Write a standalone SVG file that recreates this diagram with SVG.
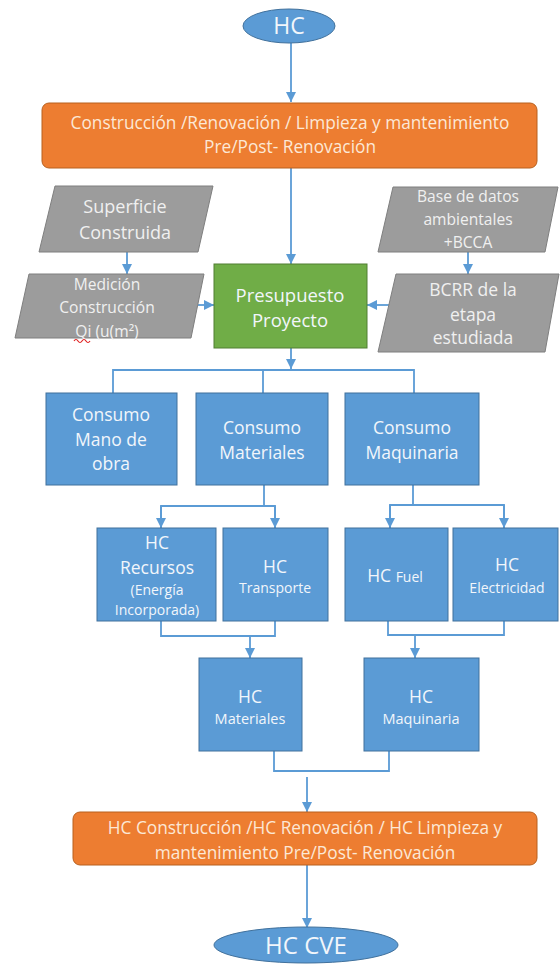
<svg xmlns="http://www.w3.org/2000/svg" width="560" height="964" viewBox="0 0 560 964">
<style>
text{font-family:"Open Sans","Liberation Sans",sans-serif;text-anchor:middle}
.blue{fill:#5B9BD5;stroke:#41719C;stroke-width:1}
.orange{fill:#ED7D31;stroke:#B8611F;stroke-width:1}
.green{fill:#70AD47;stroke:#507E32;stroke-width:1}
.gray{fill:#9C9C9C;stroke:#7F7F7F;stroke-width:1}
.tb{fill:#F2F6FB}
.to{fill:#FCE8D6}
.tg{fill:#F0F0F0}
.conn{fill:none;stroke:#5B9BD5;stroke-width:1.8}
</style>
<defs>
<marker id="arr" markerUnits="userSpaceOnUse" markerWidth="10" markerHeight="10" viewBox="0 0 10 10" refX="10" refY="5" orient="auto">
<path d="M0,0 L10,5 L0,10 Z" fill="#5B9BD5"/>
</marker>
</defs>
<rect width="560" height="964" fill="#FFFFFF"/>

<g id="connectors">
<line class="conn" x1="291" y1="43" x2="291" y2="102" marker-end="url(#arr)"/>
<line class="conn" x1="291" y1="168" x2="291" y2="264" marker-end="url(#arr)"/>
<line class="conn" x1="127" y1="252" x2="127" y2="274" marker-end="url(#arr)"/>
<line class="conn" x1="468" y1="252" x2="468" y2="274" marker-end="url(#arr)"/>
<line class="conn" x1="198" y1="305" x2="214" y2="305" marker-end="url(#arr)"/>
<line class="conn" x1="390" y1="305" x2="367" y2="305" marker-end="url(#arr)"/>
<line class="conn" x1="291" y1="348" x2="291" y2="369" marker-end="url(#arr)"/>
<polyline class="conn" points="113,393 113,370 414,370 414,393"/>
<line class="conn" x1="263" y1="370" x2="263" y2="393"/>
<line class="conn" x1="264" y1="485" x2="264" y2="506"/>
<polyline class="conn" points="161,528 161,506 275,506 275,528"/>
<line class="conn" x1="161" y1="506" x2="161" y2="528" marker-end="url(#arr)"/>
<line class="conn" x1="275" y1="506" x2="275" y2="528" marker-end="url(#arr)"/>
<line class="conn" x1="413" y1="485" x2="413" y2="505"/>
<polyline class="conn" points="390,528 390,505 504,505 504,528"/>
<line class="conn" x1="390" y1="505" x2="390" y2="528" marker-end="url(#arr)"/>
<line class="conn" x1="504" y1="505" x2="504" y2="528" marker-end="url(#arr)"/>
<polyline class="conn" points="161,621 161,636 275,636 275,621"/>
<line class="conn" x1="250" y1="636" x2="250" y2="658" marker-end="url(#arr)"/>
<polyline class="conn" points="388,621 388,635 504,635 504,621"/>
<line class="conn" x1="415" y1="635" x2="415" y2="658" marker-end="url(#arr)"/>
<polyline class="conn" points="274,751 274,771 389,771 389,751"/>
<line class="conn" x1="307" y1="777" x2="307" y2="812" marker-end="url(#arr)"/>
<line class="conn" x1="307" y1="865" x2="307" y2="928" marker-end="url(#arr)"/>
</g>

<g id="hc-top">
<ellipse class="blue" cx="289" cy="26" rx="46" ry="17"/>
<text class="tb" x="289" y="34" font-size="23">HC</text>
</g>

<g id="stage">
<rect class="orange" x="42" y="103" width="495" height="65" rx="7"/>
<text class="to" x="290" y="129" font-size="17.3">Construcción /Renovación / Limpieza y mantenimiento</text>
<text class="to" x="290" y="153" font-size="17.3">Pre/Post- Renovación</text>
</g>

<g id="superficie">
<polygon class="gray" points="55,186 213,186 198,252 39,252"/>
<text class="tg" x="125" y="213" font-size="18">Superficie</text>
<text class="tg" x="125" y="239" font-size="18">Construida</text>
</g>

<g id="medicion">
<polygon class="gray" points="29,274 204,274 191,338 15,338"/>
<text class="tg" x="107" y="290" font-size="15.6">Medición</text>
<text class="tg" x="107" y="313" font-size="15.6">Construcción</text>
<text class="tg" x="107" y="337" font-size="15.6">Qi (u(m²)</text>
<path d="M74,341 q2,-3 4,0 t4,0 t4,0 t4,0" fill="none" stroke="#E02020" stroke-width="1.2"/>
</g>

<g id="base-datos">
<polygon class="gray" points="393,187 558,187 545,252 378,252"/>
<text class="tg" x="468" y="202" font-size="15.6">Base de datos</text>
<text class="tg" x="468" y="225" font-size="15.6">ambientales</text>
<text class="tg" x="468" y="248" font-size="15.6">+BCCA</text>
</g>

<g id="bcrr">
<polygon class="gray" points="396,274 559,274 545,352 378,352"/>
<text class="tg" x="473" y="296" font-size="17.5">BCRR de la</text>
<text class="tg" x="473" y="321" font-size="17.5">etapa</text>
<text class="tg" x="473" y="344" font-size="17.5">estudiada</text>
</g>

<g id="presupuesto">
<rect class="green" x="214" y="264" width="153" height="84"/>
<text class="tb" x="290" y="302" font-size="18.5">Presupuesto</text>
<text class="tb" x="290" y="327" font-size="18.5">Proyecto</text>
</g>

<g id="consumo-mano">
<rect class="blue" x="46" y="393" width="131" height="92"/>
<text class="tb" x="111" y="421" font-size="17.5">Consumo</text>
<text class="tb" x="111" y="446" font-size="17.5">Mano de</text>
<text class="tb" x="111" y="470" font-size="17.5">obra</text>
</g>

<g id="consumo-materiales">
<rect class="blue" x="196" y="393" width="132" height="92"/>
<text class="tb" x="262" y="434" font-size="17.5">Consumo</text>
<text class="tb" x="262" y="459" font-size="17.5">Materiales</text>
</g>

<g id="consumo-maquinaria">
<rect class="blue" x="345" y="393" width="134" height="92"/>
<text class="tb" x="412" y="434" font-size="17.5">Consumo</text>
<text class="tb" x="412" y="459" font-size="17.5">Maquinaria</text>
</g>

<g id="hc-recursos">
<rect class="blue" x="97" y="528" width="119" height="93"/>
<text class="tb" x="157" y="549" font-size="17.5">HC</text>
<text class="tb" x="157" y="574" font-size="17.5">Recursos</text>
<text class="tb" x="157" y="595" font-size="14">(Energía</text>
<text class="tb" x="157" y="615" font-size="14">Incorporada)</text>
</g>

<g id="hc-transporte">
<rect class="blue" x="223" y="528" width="105" height="93"/>
<text class="tb" x="275" y="573" font-size="17.5">HC</text>
<text class="tb" x="275" y="593" font-size="14">Transporte</text>
</g>

<g id="hc-fuel">
<rect class="blue" x="345" y="528" width="103" height="93"/>
<text class="tb" x="395" y="582"><tspan font-size="17.5">HC </tspan><tspan font-size="14">Fuel</tspan></text>
</g>

<g id="hc-electricidad">
<rect class="blue" x="453" y="528" width="105" height="93"/>
<text class="tb" x="507" y="571" font-size="17.5">HC</text>
<text class="tb" x="507" y="593" font-size="14">Electricidad</text>
</g>

<g id="hc-materiales">
<rect class="blue" x="199" y="658" width="103" height="93"/>
<text class="tb" x="250" y="703" font-size="17.5">HC</text>
<text class="tb" x="250" y="724" font-size="14.5">Materiales</text>
</g>

<g id="hc-maquinaria">
<rect class="blue" x="364" y="658" width="115" height="93"/>
<text class="tb" x="421" y="703" font-size="17.5">HC</text>
<text class="tb" x="421" y="724" font-size="14.5">Maquinaria</text>
</g>

<g id="hc-stage">
<rect class="orange" x="73" y="812" width="464" height="53" rx="7"/>
<text class="to" x="305" y="834" font-size="17.3">HC Construcción /HC Renovación / HC Limpieza y</text>
<text class="to" x="305" y="859" font-size="17.3">mantenimiento Pre/Post- Renovación</text>
</g>

<g id="hc-cve">
<ellipse class="blue" cx="306" cy="945" rx="92" ry="18"/>
<text class="tb" x="306" y="954" font-size="24">HC CVE</text>
</g>
</svg>
